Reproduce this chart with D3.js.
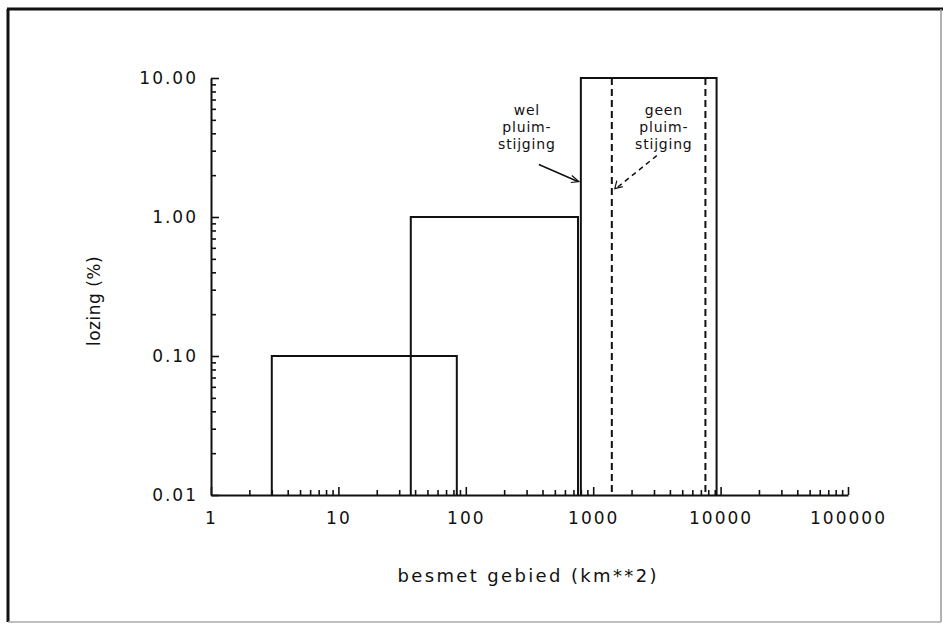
<!DOCTYPE html>
<html>
<head>
<meta charset="utf-8">
<script src="https://cdn.jsdelivr.net/npm/d3@7"></script>
<style>
  body { margin: 0; background: #fff; }
  svg { display: block; }
  text { font-family: "DejaVu Sans", sans-serif; fill: #111; }
</style>
</head>
<body>
<svg id="fig" width="943" height="631"></svg>
<script>
// bars: area range (km**2) and release (%)
const barFrom = [3, 37, 800];
const barTo = [85, 760, 9300];
const barValue = [0.1, 1, 10];
// dashed bar: no plume rise
const dashFrom = [1400];
const dashTo = [7600];
const dashValue = [10];

const xTickLabels = [1, 10, 100, 1000, 10000, 100000];
const yTickLabels = [0.01, 0.1, 1, 10];

const svg = d3.select('#fig');
const width = +svg.attr('width');
const height = +svg.attr('height');

// frame
svg.append('line').attr('x1', 8).attr('y1', 9).attr('x2', 8).attr('y2', 622)
  .attr('stroke', '#111').attr('stroke-width', 3);
svg.append('line').attr('x1', 7).attr('y1', 9).attr('x2', 943).attr('y2', 9)
  .attr('stroke', '#111').attr('stroke-width', 3);
svg.append('line').attr('x1', 941).attr('y1', 9).attr('x2', 941).attr('y2', 622)
  .attr('stroke', '#999').attr('stroke-width', 1.5);
svg.append('line').attr('x1', 8).attr('y1', 622).attr('x2', 941).attr('y2', 622)
  .attr('stroke', '#aaa').attr('stroke-width', 1.5);

const xScale = d3.scaleLog().domain([1, 100000]).range([211, 848]);
const yScale = d3.scaleLog().domain([0.01, 10]).range([495, 78]);

const minor = (lo, hi) => {
  const out = [];
  for (let p = Math.log10(lo); p <= Math.log10(hi); p++) {
    for (let m = 1; m <= 9; m++) {
      const v = m * Math.pow(10, p);
      if (v <= hi * 1.0001) out.push(+v.toPrecision(3));
    }
  }
  return out;
};
const isMajor = v => xTickLabels.concat(yTickLabels).some(t => Math.abs(t - v) < 1e-9 * Math.max(1, t));

const g = svg.append('g');

// x axis
const xAxis = d3.axisBottom(xScale)
  .tickValues(minor(1, 100000))
  .tickSize(-5).tickSizeOuter(0).tickPadding(17)
  .tickFormat(d => isMajor(d) ? String(d) : '');
const xg = g.append('g').attr('transform', `translate(0,${yScale(0.01)})`).call(xAxis);
xg.selectAll('.tick line').attr('y2', d => isMajor(d) ? -8 : -5);

// y axis
const yAxis = d3.axisLeft(yScale)
  .tickValues(minor(0.01, 10))
  .tickSize(-5).tickSizeOuter(0).tickPadding(13)
  .tickFormat(d => isMajor(d) ? d3.format('.2f')(d) : '');
const yg = g.append('g').attr('transform', `translate(${xScale(1)},0)`).call(yAxis);
yg.selectAll('.tick line').attr('x2', d => isMajor(d) ? 8 : 5);

[xg, yg].forEach(a => {
  a.select('.domain').attr('stroke', '#111').attr('stroke-width', 2);
  a.selectAll('.tick line').attr('stroke', '#111').attr('stroke-width', 1.6);
  a.selectAll('.tick text').attr('font-size', 17).attr('letter-spacing', 2)
    .attr('font-family', '"DejaVu Sans", sans-serif').attr('fill', '#111');
});

// solid bars (open at the bottom)
const bars = barFrom.map((d, i) => ({ from: d, to: barTo[i], value: barValue[i] }));
g.selectAll('path.bar').data(bars).join('path')
  .attr('class', 'bar')
  .attr('fill', 'none').attr('stroke', '#111').attr('stroke-width', 2)
  .attr('d', d => `M${xScale(d.from)},${yScale(0.01)}V${yScale(d.value)}H${xScale(d.to)}V${yScale(0.01)}`);

// dashed bar edges
const dashed = dashFrom.map((d, i) => ({ from: d, to: dashTo[i], value: dashValue[i] }));
dashed.forEach(d => {
  [d.from, d.to].forEach(x => {
    g.append('line')
      .attr('x1', xScale(x)).attr('x2', xScale(x))
      .attr('y1', yScale(d.value)).attr('y2', yScale(0.01))
      .attr('stroke', '#111').attr('stroke-width', 2)
      .attr('stroke-dasharray', '7,4');
  });
});

// annotations
const note = (lines, cx, cy) => {
  const t = g.append('text').attr('text-anchor', 'middle').attr('font-size', 14)
    .attr('letter-spacing', 0.8);
  lines.forEach((l, i) => t.append('tspan').attr('x', cx).attr('y', cy + i * 17).text(l));
};
const welTip = [xScale(barFrom[2]), yScale(1.8)];
note(['wel', 'pluim-', 'stijging'], welTip[0] - 54, 115);
g.append('line').attr('x1', welTip[0] - 42).attr('y1', welTip[1] - 17)
  .attr('x2', welTip[0] - 3).attr('y2', welTip[1])
  .attr('stroke', '#111').attr('stroke-width', 1.5);
g.append('path').attr('d', `M${welTip[0] - 9},${welTip[1] - 6}L${welTip[0] - 2},${welTip[1]}L${welTip[0] - 10},${welTip[1] + 1}`)
  .attr('fill', 'none').attr('stroke', '#111').attr('stroke-width', 1.2);

const geenTip = [xScale(dashFrom[0]) + 3, yScale(1.6)];
note(['geen', 'pluim-', 'stijging'], geenTip[0] + 49, 115);
g.append('line').attr('x1', geenTip[0] + 42).attr('y1', geenTip[1] - 33)
  .attr('x2', geenTip[0] + 1).attr('y2', geenTip[1])
  .attr('stroke', '#111').attr('stroke-width', 1.5).attr('stroke-dasharray', '5,4');
g.append('path').attr('d', `M${geenTip[0] + 2},${geenTip[1] - 8}L${geenTip[0]},${geenTip[1]}L${geenTip[0] + 8},${geenTip[1] - 2}`)
  .attr('fill', 'none').attr('stroke', '#111').attr('stroke-width', 1.2);

// axis titles
g.append('text').attr('text-anchor', 'middle').attr('font-size', 17).attr('letter-spacing', 0.5)
  .attr('transform', 'translate(100,301) rotate(-90)')
  .text('lozing  (%)');
g.append('text').attr('text-anchor', 'middle').attr('font-size', 18)
  .attr('x', 527).attr('y', 582)
  .attr('textLength', 259).attr('lengthAdjust', 'spacing')
  .text('besmet  gebied  (km**2)');
</script>
</body>
</html>
